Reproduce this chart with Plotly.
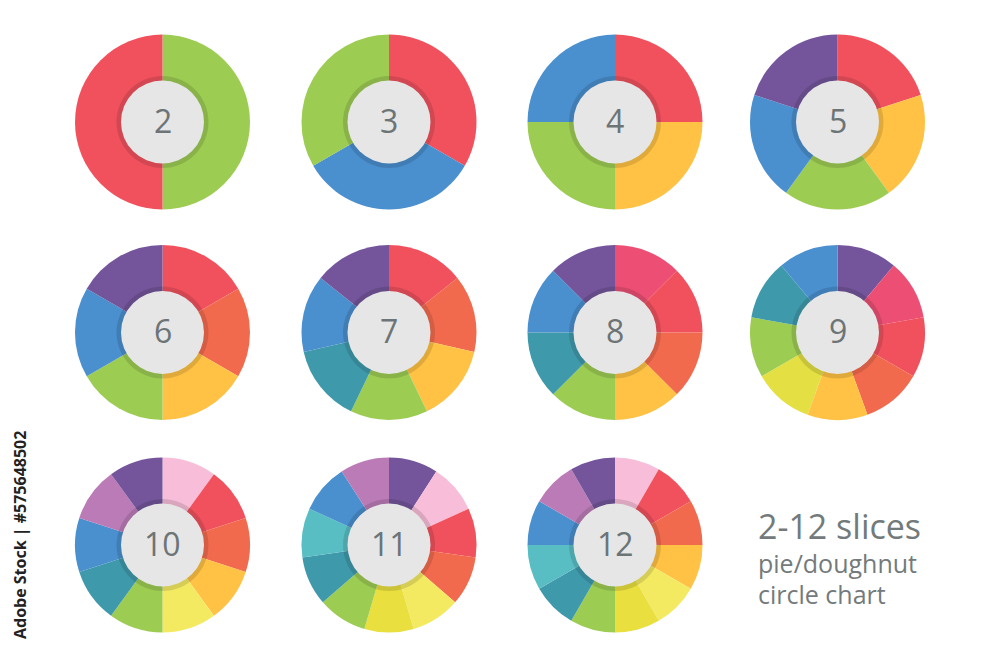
import plotly.graph_objects as go

# ---- data ----
slice_counts = [2, 3, 4, 5, 6, 7, 8, 9, 10, 11, 12]
center_labels = ["2", "3", "4", "5", "6", "7", "8", "9", "10", "11", "12"]

RED = "#f0515d"; GREEN = "#9dcc52"; BLUE = "#4a8fce"; YELLOW = "#ffc244"
PURPLE = "#74559b"; ORANGE = "#f26a4e"; TEAL = "#3e99ab"; PINKRED = "#ec4f73"
LPINK = "#f7bdd9"; LILAC = "#bb7bb7"; LYELLOW = "#f3ea62"; LIME = "#e4e043"
YEL2 = "#e9df3f"; CYAN = "#58bec4"

slice_colors = [
    [GREEN, RED],
    [RED, BLUE, GREEN],
    [RED, YELLOW, GREEN, BLUE],
    [RED, YELLOW, GREEN, BLUE, PURPLE],
    [RED, ORANGE, YELLOW, GREEN, BLUE, PURPLE],
    [RED, ORANGE, YELLOW, GREEN, TEAL, BLUE, PURPLE],
    [PINKRED, RED, ORANGE, YELLOW, GREEN, TEAL, BLUE, PURPLE],
    [PURPLE, PINKRED, RED, ORANGE, YELLOW, LIME, GREEN, TEAL, BLUE],
    [LPINK, RED, ORANGE, YELLOW, LYELLOW, GREEN, TEAL, BLUE, LILAC, PURPLE],
    [PURPLE, LPINK, RED, ORANGE, LYELLOW, YEL2, GREEN, TEAL, CYAN, BLUE, LILAC],
    [LPINK, RED, ORANGE, YELLOW, LYELLOW, YEL2, GREEN, TEAL, CYAN, BLUE, LILAC, PURPLE],
]

title_lines = ["2-12 slices", "pie/doughnut", "circle chart"]
credit_text = "Adobe Stock | #575648502"

# ---- layout (pixel geometry) ----
W, H = 1000, 667
cols = [162.5, 389, 615, 837.5]
rows = [122, 332.5, 545]
R = 87.5
R_RING = 46
R_INNER = 41.5

def px(x):
    return x / W

def py(y):
    return 1 - y / H

fig = go.Figure()
shapes = []
annotations = []

for i, n in enumerate(slice_counts):
    cx = cols[i % 4]
    cy = rows[i // 4]
    fig.add_trace(go.Pie(
        values=[1] * n,
        labels=[f"s{k}" for k in range(n)],
        marker=dict(colors=slice_colors[i], line=dict(width=0)),
        sort=False, direction="clockwise", rotation=0,
        textinfo="none", hoverinfo="skip", showlegend=False,
        domain=dict(x=[px(cx - R), px(cx + R)], y=[py(cy + R), py(cy - R)]),
    ))
    shapes.append(dict(type="circle", xref="paper", yref="paper", layer="above",
                       x0=px(cx - R_RING), x1=px(cx + R_RING),
                       y0=py(cy + R_RING), y1=py(cy - R_RING),
                       fillcolor="rgba(0,0,0,0.12)", line=dict(width=0)))
    shapes.append(dict(type="circle", xref="paper", yref="paper", layer="above",
                       x0=px(cx - R_INNER), x1=px(cx + R_INNER),
                       y0=py(cy + R_INNER), y1=py(cy - R_INNER),
                       fillcolor="#e6e6e6", line=dict(width=0)))
    annotations.append(dict(text=center_labels[i], xref="paper", yref="paper",
                            x=px(cx), y=py(cy - 2), xanchor="center", yanchor="middle",
                            showarrow=False,
                            font=dict(family="Open Sans", size=32, color="#6c7476")))

text_specs = [(title_lines[0], 542, 34), (title_lines[1], 575, 25), (title_lines[2], 606, 25)]
for t, base, size in text_specs:
    annotations.append(dict(text=t, xref="paper", yref="paper",
                            x=px(756), y=py(base), xanchor="left", yanchor="bottom",
                            yshift=-size * 0.27,
                            showarrow=False,
                            font=dict(family="Open Sans", size=size, color="#737a7c")))

annotations.append(dict(text="<b>" + credit_text + "</b>", xref="paper", yref="paper",
                        x=px(20), y=py(535), xanchor="center", yanchor="middle",
                        textangle=-90, showarrow=False,
                        font=dict(family="Open Sans", size=16, color="#222222")))

fig.update_layout(
    width=W, height=H,
    margin=dict(l=0, r=0, t=0, b=0),
    paper_bgcolor="white", plot_bgcolor="white",
    shapes=shapes, annotations=annotations,
)

fig.write_html("out.html", config={"displayModeBar": False},
               post_script="document.body.style.margin='0';")
